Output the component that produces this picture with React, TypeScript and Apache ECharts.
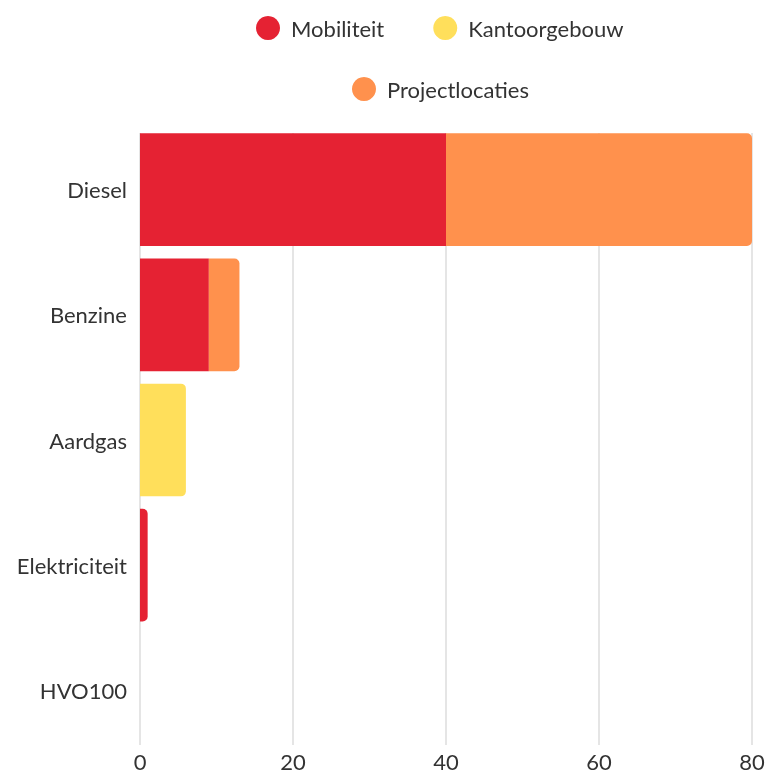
import React, { useEffect, useRef } from "react";
import * as echarts from "echarts";

const categories = ["Diesel", "Benzine", "Aardgas", "Elektriciteit", "HVO100"];
const mobiliteit = [40, 9, 0, 1, 0];
const kantoorgebouw = [0, 0, 6, 0, 0];
const projectlocaties = [40, 4, 0, 0, 0];
const xTicks = [0, 20, 40, 60, 80];

const seriesNames = ["Mobiliteit", "Kantoorgebouw", "Projectlocaties"];
const seriesColors = ["#E52233", "#FFDF5B", "#FF914D"];

const FONT = "Lato, 'Open Sans', sans-serif";

export default function App() {
  const ref = useRef<HTMLDivElement>(null);
  useEffect(() => {
    if (!ref.current) return;
    const chart = echarts.init(ref.current, undefined, { renderer: "svg" });
    const all = [mobiliteit, kantoorgebouw, projectlocaties];
    const lastIdx = categories.map((_, ci) => {
      let last = -1;
      all.forEach((arr, si) => {
        if (arr[ci] > 0) last = si;
      });
      return last;
    });
    const series = all.map((arr, si) => ({
      name: seriesNames[si],
      type: "bar",
      stack: "total",
      xAxisIndex: 0,
      yAxisIndex: 0,
      barCategoryGap: "10%",
      itemStyle: { color: seriesColors[si] },
      data: arr.map((v, ci) => ({
        value: v,
        itemStyle: { borderRadius: lastIdx[ci] === si ? [0, 5, 5, 0] : 0 },
      })),
    }));
    const legendText = { fontFamily: FONT, fontSize: 22, color: "#333" };
    const legendCommon = {
      itemWidth: 36,
      itemHeight: 24,
      itemGap: 49,
      padding: 0,
      textStyle: legendText,
    };
    const xMin = xTicks[0];
    const xMax = xTicks[xTicks.length - 1];
    const xInterval = xTicks[1] - xTicks[0];
    chart.setOption({
      animation: false,
      legend: [
        {
          ...legendCommon,
          data: [
            { name: "Mobiliteit", icon: "circle" },
            { name: "Kantoorgebouw", icon: "circle" },
          ],
          top: 16,
          left: 256,
        },
        {
          ...legendCommon,
          data: [{ name: "Projectlocaties", icon: "circle" }],
          top: 77,
          left: 352,
        },
      ],
      grid: [
        { left: 140, right: 16, top: 127, bottom: 23, containLabel: false },
        { left: 140, right: 16, top: 133, bottom: 31, containLabel: false },
      ],
      xAxis: [
        {
          type: "value",
          gridIndex: 0,
          min: xMin,
          max: xMax,
          interval: xInterval,
          axisLine: { show: false },
          axisTick: { show: false },
          splitLine: { show: false },
          axisLabel: { show: false },
        },
        {
          type: "value",
          gridIndex: 1,
          min: xMin,
          max: xMax,
          interval: xInterval,
          axisLine: { show: false },
          axisTick: { show: false },
          splitLine: { show: true, lineStyle: { color: "#DDDDDD", width: 1.5 } },
          axisLabel: {
            fontFamily: FONT,
            fontSize: 22,
            lineHeight: 18,
            color: "#333",
            margin: 7,
          },
          z: 0,
        },
      ],
      yAxis: [
        {
          type: "category",
          gridIndex: 0,
          inverse: true,
          data: categories,
          axisLine: { show: false },
          axisTick: { show: false },
          axisLabel: { fontFamily: FONT, fontSize: 22, color: "#333", margin: 13 },
        },
        {
          type: "category",
          gridIndex: 1,
          inverse: true,
          data: categories,
          axisLine: { show: false },
          axisTick: { show: false },
          axisLabel: { show: false },
        },
      ],
      series,
    });
    return () => chart.dispose();
  }, []);
  return (
    <div
      ref={ref}
      style={{ position: "fixed", left: 0, top: 0, width: 768, height: 776 }}
    />
  );
}
